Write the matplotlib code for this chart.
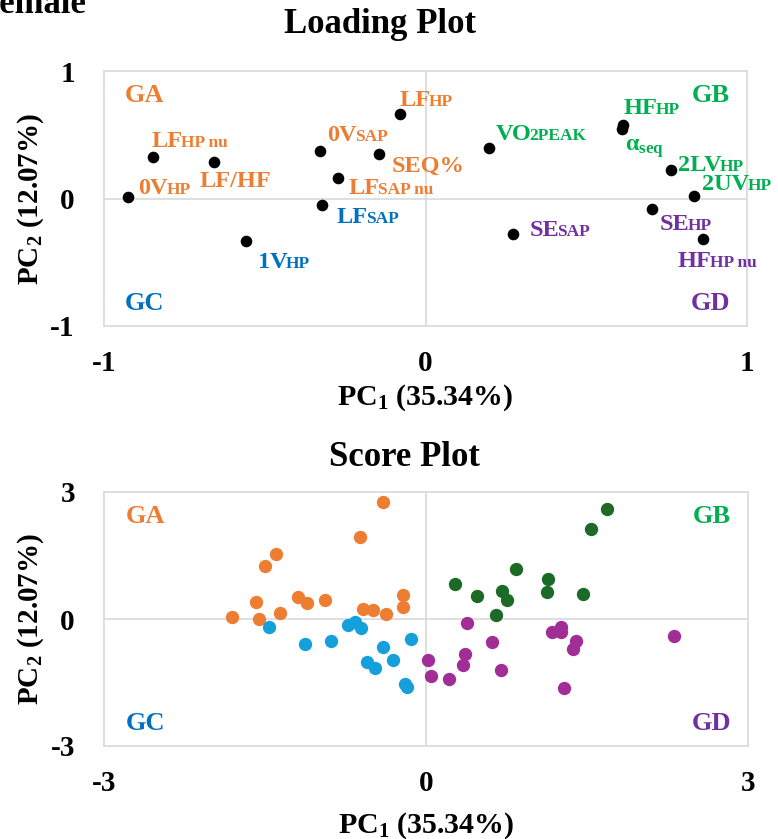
import numpy as np
import matplotlib
matplotlib.use("Agg")
import matplotlib.pyplot as plt

plt.rcParams['font.family'] = ['Liberation Serif', 'DejaVu Serif']
plt.rcParams['font.weight'] = 'bold'
plt.rcParams['axes.labelweight'] = 'bold'
plt.rcParams['axes.unicode_minus'] = False
plt.rcParams['mathtext.fontset'] = 'custom'
plt.rcParams['mathtext.rm'] = 'Liberation Serif:bold'
plt.rcParams['mathtext.bf'] = 'Liberation Serif:bold'
plt.rcParams['mathtext.it'] = 'Liberation Serif:bold'

# loading plot data
load_main = ["0V", "LF", "LF/HF", "0V", "SEQ%", "LF", "LF", "1V", "LF",
             "VO", "HF", r"$\alpha_{\mathrm{seq}}$", "2LV", "2UV", "SE", "HF", "SE"]
load_small = ["HP", "HP nu", "", "SAP", "", "SAP nu", "SAP", "HP", "HP",
              "2PEAK", "HP", "", "HP", "HP", "HP", "HP nu", "SAP"]
load_pc1 = [-0.924, -0.847, -0.658, -0.328, -0.145, -0.272, -0.321, -0.559, -0.079,
            0.199, 0.613, 0.610, 0.763, 0.835, 0.703, 0.862, 0.273]
load_pc2 = [0.01, 0.328, 0.289, 0.375, 0.351, 0.158, -0.051, -0.333, 0.663,
            0.394, 0.576, 0.543, 0.221, 0.022, -0.082, -0.318, -0.276]
load_group = ["GA", "GA", "GA", "GA", "GA", "GA", "GC", "GC", "GA",
              "GB", "GB", "GB", "GB", "GB", "GD", "GD", "GD"]
# label offsets in pixels (right, down to baseline)
lbl_dx = [10, -2, -14, 7, 13, 10, 14, 12, -1, 6, 1, 3, 7, 8, 8, -25, 16]
lbl_dy = [-3, -10, 25, -10, 18, 16, 18, 27, -8, -8, -11, 21, 1, -6, 21, 28, 2]

# score plot data
ga_x = [-0.404, -0.618, -1.401, -1.498, -1.587, -1.808, -1.559, -1.364, -1.193, -1.112,
        -0.938, -0.584, -0.494, -0.376, -0.214, -0.214]
ga_y = [2.77, 1.93, 1.53, 1.25, 0.41, 0.05, 0.01, 0.13, 0.53, 0.37,
        0.46, 0.24, 0.21, 0.12, 0.56, 0.29]
gb_x = [1.684, 1.538, 0.839, 0.273, 0.478, 0.705, 0.755, 1.140, 1.125, 1.463, 0.655]
gb_y = [2.61, 2.12, 1.17, 0.82, 0.54, 0.67, 0.45, 0.94, 0.63, 0.60, 0.09]
gc_x = [-1.460, -1.125, -0.885, -0.730, -0.662, -0.606, -0.398, -0.140, -0.550, -0.478,
        -0.308, -0.196, -0.174]
gc_y = [-0.20, -0.60, -0.52, -0.14, -0.08, -0.22, -0.66, -0.47, -1.01, -1.16,
        -0.97, -1.53, -1.61]
gd_x = [0.379, 0.612, 0.366, 0.348, 0.019, 0.044, 0.214, 0.702, 1.177, 1.258,
        1.258, 1.401, 1.373, 1.289, 2.311]
gd_y = [-0.09, -0.54, -0.83, -1.08, -0.97, -1.35, -1.42, -1.21, -0.31, -0.20,
        -0.31, -0.52, -0.70, -1.63, -0.40]

text_col = {"GA": "#ED7D31", "GB": "#00B050", "GC": "#0070C0", "GD": "#7030A0"}
dot_col = {"GA": "#ED7D31", "GB": "#1B6B26", "GC": "#16A0DB", "GD": "#A12D96"}


def style_axes(ax, lim, ticks):
    ax.set_xlim(-lim, lim)
    ax.set_ylim(-lim, lim)
    ax.set_xticks(ticks)
    ax.set_yticks(ticks)
    ax.axhline(0, color="#D9D9D9", lw=1.2, zorder=0)
    ax.axvline(0, color="#D9D9D9", lw=1.2, zorder=0)
    for s in ax.spines.values():
        s.set_color("#D9D9D9")
        s.set_linewidth(1.2)
    ax.tick_params(length=0, labelsize=21)
    ax.tick_params(axis="x", pad=17)
    ax.tick_params(axis="y", pad=21)
    ax.set_ylabel("PC$_2$ (12.07%)", fontsize=21, fontweight="bold")
    ax.yaxis.set_label_coords(-0.09, 0.5)
    for g, xx, yy, ha in [("GA", 0.033, 0.905, "left"), ("GB", 0.974, 0.905, "right"),
                          ("GC", 0.033, 0.087, "left"), ("GD", 0.974, 0.087, "right")]:
        ax.text(xx, yy, g, transform=ax.transAxes, color=text_col[g], fontsize=19,
                ha=ha, va="center")


fig = plt.figure(figsize=(7.78, 8.39), dpi=100)

fig.text(-22 / 778, 1 - 13 / 839, "Female", fontsize=25, va="baseline")
fig.text(380 / 778, 1 - 33 / 839, "Loading Plot", fontsize=25, ha="center", va="baseline")
fig.text(404 / 778, 1 - 466 / 839, "Score Plot", fontsize=25, ha="center", va="baseline")

ax1 = fig.add_axes([104 / 778, 1 - 326 / 839, 643 / 778, 255 / 839])
style_axes(ax1, 1, [-1, 0, 1])
ax1.scatter(load_pc1, load_pc2, s=70, color="black", zorder=3, linewidths=0)
ax1.set_xlabel("PC$_1$ (35.34%)", fontsize=21.5, fontweight="bold")
ax1.xaxis.set_label_coords(0.5, -0.22)

renderer = fig.canvas.get_renderer()
for i in range(len(load_pc1)):
    c = text_col[load_group[i]]
    t = ax1.annotate(load_main[i], (load_pc1[i], load_pc2[i]),
                     xytext=(lbl_dx[i], -lbl_dy[i]), textcoords="offset pixels",
                     ha="left", va="baseline", color=c, fontsize=17.5, fontweight="bold")
    if load_small[i]:
        w = t.get_window_extent(renderer).width
        ax1.annotate(load_small[i], (load_pc1[i], load_pc2[i]),
                     xytext=(lbl_dx[i] + w - 1.5, -lbl_dy[i]), textcoords="offset pixels",
                     ha="left", va="baseline", color=c, fontsize=12.5, fontweight="bold")

ax2 = fig.add_axes([104 / 778, 1 - 746 / 839, 644 / 778, 254 / 839])
style_axes(ax2, 3, [-3, 0, 3])
ax2.scatter(ga_x, ga_y, s=92, color=dot_col["GA"], zorder=3, linewidths=0)
ax2.scatter(gb_x, gb_y, s=92, color=dot_col["GB"], zorder=3, linewidths=0)
ax2.scatter(gc_x, gc_y, s=92, color=dot_col["GC"], zorder=3, linewidths=0)
ax2.scatter(gd_x, gd_y, s=92, color=dot_col["GD"], zorder=3, linewidths=0)
ax2.set_xlabel("PC$_1$ (35.34%)", fontsize=21.5, fontweight="bold")
ax2.xaxis.set_label_coords(0.5, -0.252)

fig.savefig("out.png", dpi=100)
